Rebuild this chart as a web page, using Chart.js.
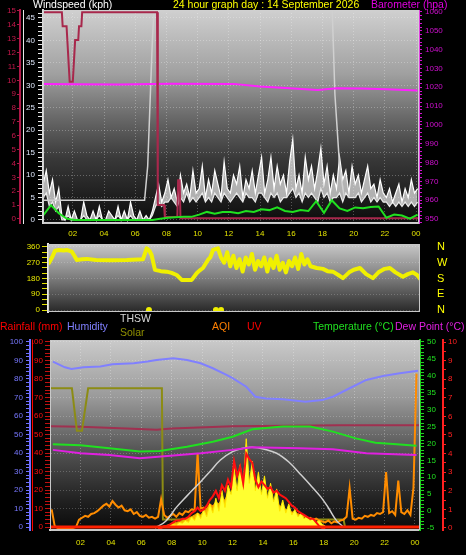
<!DOCTYPE html>
<html>
<head>
<meta charset="utf-8">
<title>24 hour graph</title>
<script src="https://cdn.jsdelivr.net/npm/chart.js@4.4.1/dist/chart.umd.min.js"></script>
<style>
  body { margin: 0; background: #000; width: 466px; height: 555px; overflow: hidden; position: relative;
         font-family: "Liberation Sans", Arial, sans-serif; }
  canvas { position: absolute; left: 0; }
  .label { position: absolute; white-space: nowrap; font-size: 10.5px; line-height: 12px; }
</style>
</head>
<body>
<canvas id="windChart" width="466" height="240" style="top:0px"></canvas>
<canvas id="dirChart" width="466" height="92" style="top:232px"></canvas>
<canvas id="climateChart" width="466" height="225" style="top:330px"></canvas>

<div class="label" style="left:33px;top:-2px;color:#ffffff">Windspeed (kph)</div>
<div class="label" style="left:173px;top:-2px;color:#ffff00">24 hour graph day : 14 September 2026</div>
<div class="label" style="left:371px;top:-2px;color:#e000e0">Barometer (hpa)</div>

<div class="label" style="left:0px;top:320px;color:#ff0000">Rainfall (mm)</div>
<div class="label" style="left:67px;top:320px;color:#8080ff">Humidity</div>
<div class="label" style="left:120px;top:312px;color:#d8d8d8">THSW</div>
<div class="label" style="left:120px;top:326px;color:#909000">Solar</div>
<div class="label" style="left:212px;top:320px;color:#ff8000">AQI</div>
<div class="label" style="left:247px;top:320px;color:#ff0000">UV</div>
<div class="label" style="left:313px;top:320px;color:#20e020">Temperature (°C)</div>
<div class="label" style="left:395px;top:320px;color:#e020e0">Dew Point (°C)</div>

<script>
// ---------- top panel: wind speed, gusts, barometer ----------
// noisy samples start at 00:06 and come every 12 minutes
const noisyStart = 0.1;
const noisyStep = 0.2;

const windGust = [8, 11, 6, 9, 4, 7,
  1, 0, 3, 0, 2, 0, 0, 4, 1, 0, 2, 0, 3, 0, 0, 2, 1, 0, 3, 0, 2, 0, 4, 1, 0, 2, 0, 1, 0,
  2, 5, 8, 4, 6,
  9, 5, 7, 4, 10, 6, 8, 5, 11, 6,
  7, 12, 5, 9, 6, 11, 8, 5, 13, 7,
  6, 10, 8, 12, 5, 9, 7, 11, 6, 10,
  14, 6, 9, 14, 7, 12, 8, 10, 6, 13,
  18, 7, 10, 6, 14, 9, 12, 7, 11, 16,
  8, 12, 6, 10, 7, 14, 9, 11, 6, 12,
  8, 10, 6, 9, 12, 7, 8, 5, 9, 6,
  5, 7, 4, 6, 8, 4, 7, 5, 9, 6, 7];

const windSpeed = [5, 6, 3, 4, 2, 3,
  0, 0, 1, 0, 0, 0, 0, 1, 0, 0, 0, 0, 1, 0, 0, 0, 0, 0, 1, 0, 0, 0, 1, 0, 0, 0, 0, 0, 0,
  1, 3, 4, 3, 4,
  4, 5, 4, 3, 5, 4, 6, 4, 5, 4,
  5, 6, 4, 5, 4, 6, 5, 4, 6, 5,
  4, 5, 6, 5, 4, 6, 5, 5, 4, 6,
  6, 5, 4, 6, 5, 6, 4, 5, 5, 6,
  7, 5, 6, 4, 6, 5, 6, 5, 4, 7,
  5, 6, 4, 5, 5, 6, 4, 6, 5, 5,
  5, 6, 4, 5, 6, 4, 5, 4, 5, 4,
  4, 3, 4, 3, 4, 3, 4, 3, 4, 3, 4];

// averaged wind, every 30 minutes
const avgStart = 0.1;
const avgStep = 0.5;
const windAvg = [1.0, 3.3, 1.5, 0.3, 0, 0, 0, 0, 0, 0, 0, 0, 0, 0, 0,
  0.3, 0.5, 0.6, 0.7, 0.7, 1.2, 1.8, 1.4, 1.8, 1.8, 1.5, 2.0, 1.8, 2.4, 2.2, 2.8, 2.0,
  1.8, 2.2, 2.0, 4.2, 1.6, 4.4, 2.6, 2.0, 2.8, 2.6, 2.9, 3.0, 0.5, 1.2, 1.0, 0.3, 1.2];

const gustMaxHours = [0.1, 6.6, 6.8, 7.1, 7.25, 18.6, 18.8, 19.1, 19.4];
const gustMax = [4.4, 4.4, 12, 40, 50, 50, 28, 12, 5];

const rateHours = [0.1, 1.3, 1.35, 1.6, 1.65, 1.75, 1.8, 2.0, 2.05, 2.15, 2.35, 2.4, 2.55, 2.6,
  7.4, 7.45, 7.85, 7.9, 8.7, 8.75, 8.85, 8.9, 24.19];
const rateValues = [14.9, 14.9, 13.9, 13.9, 12.9, 10.9, 9.9, 9.9, 10.9, 12.9, 12.9, 13.9, 13.9, 14.9,
  14.9, 1.0, 1.0, 0.15, 0.15, 2.8, 2.8, 0.05, 0.05];

const baroHours = [0.1, 2, 5, 8.2, 12.3, 14, 15.9, 17.7, 18.9, 20.5, 22.1, 24.1];
const baroValues = [1021.7, 1021.6, 1021.5, 1021.9, 1021.8, 1020.4, 1019.5, 1018.6, 1019.5, 1019.4, 1019.0, 1018.3];

// ---------- middle panel: wind direction ----------
const dirHours = [0.15, 0.35, 0.54, 0.8, 1.1, 1.3, 1.63, 1.8, 1.95, 2.3, 2.6, 3.2, 4.2, 5.2, 5.9,
  6.24, 6.48, 6.65, 6.8, 7.02, 7.4, 7.78, 8.1, 8.43, 8.75, 9.0, 9.4, 9.72, 9.9, 10.13,
  10.45, 10.6, 10.78, 11.1,
  11.3, 11.5, 11.7, 11.9, 12.1, 12.3, 12.5, 12.7, 12.9, 13.1, 13.3, 13.5, 13.7, 13.9, 14.1,
  14.3, 14.5, 14.7, 14.9, 15.1, 15.3, 15.5, 15.7, 15.9, 16.1, 16.3, 16.5, 16.7, 16.9, 17.1,
  17.5, 17.9, 18.2, 18.55, 18.9, 19.2, 19.6, 19.9, 20.3, 20.7, 21.14, 21.5, 21.9, 22.24, 22.6,
  23.08, 23.4, 23.73, 24.0, 24.18];
const dirValues = [268, 300, 338, 343, 340, 343, 333, 310, 286, 290, 292, 285, 284, 285, 288,
  290, 352, 340, 314, 229, 222, 219, 212, 200, 172, 171, 172, 210, 225, 240,
  286, 300, 343, 352,
  300, 270, 330, 250, 310, 240, 290, 220, 300, 260, 320, 230, 280, 250, 300,
  220, 290, 240, 310, 230, 270, 215, 280, 250, 300, 235, 320, 260, 290, 250,
  240, 235, 222, 219, 200, 182, 215, 230, 240, 205, 182, 215, 235, 240, 215,
  190, 205, 215, 200, 180];
const calmHours = [6.63, 10.97, 11.3];
const calmValues = [0, 0, 0];
const compassLabels = { 0: "N", 90: "E", 180: "S", 270: "W", 360: "N" };

// ---------- bottom panel ----------
const humHours = [0.18, 0.97, 1.4, 2.2, 3.3, 4.1, 5.5, 6.4, 7.0, 8.1, 9.0, 9.9, 10.7, 11.6, 12.0,
  12.9, 13.5, 14.2, 15.3, 16.8, 17.9, 18.6, 19.7, 20.8, 21.9, 23.0, 24.2];
const humValues = [89.4, 86.3, 85.4, 86.3, 86.7, 88.0, 88.5, 89.4, 90.3, 91.2, 90.3, 88.5, 85.8, 82.2, 80.5,
  75.8, 70.4, 69.5, 69.0, 67.7, 68.6, 70.4, 75.0, 79.5, 81.6, 83.1, 84.5];

const tempHours = [0.18, 2.0, 3.9, 5.9, 7.2, 9.0, 10.7, 12.0, 13.3, 15.3, 17.1, 18.6, 20.1, 21.4, 22.8, 24.1];
const tempValues = [19.8, 19.5, 18.6, 17.6, 17.8, 19.0, 20.5, 22.0, 24.2, 25.0, 25.0, 23.5, 21.5, 20.2, 19.8, 19.3];

const dewHours = [0.18, 2.0, 3.9, 5.9, 7.7, 9.9, 12.0, 13.3, 16.4, 18.6, 20.8, 24.1];
const dewValues = [18.1, 17.1, 16.6, 15.6, 16.3, 17.1, 18.1, 18.9, 18.6, 18.3, 17.1, 16.6];

const thswHours = [6.9, 7.6, 8.3, 9.0, 9.9, 10.5, 11.2, 12.0, 12.7, 13.3, 14.1, 14.9, 15.7, 16.4, 17.1, 17.8, 18.3, 18.8, 19.3];
const thswValues = [-5, -3, 1.1, 4.5, 8.7, 11.6, 15.1, 17.6, 18.6, 18.9, 18.3, 17.1, 14.5, 11.2, 7.8, 4.2, 1.0, -2.6, -4.7];

const solarHours = [-0.1, 1.43, 1.76, 2.09, 2.5, 7.35, 7.42, 19.3, 19.4, 24.4];
const solarValues = [75, 75, 52, 52, 75, 75, 4, 4, 0, 0];

const maroonHours = [-0.1, 2.0, 5.0, 7.0, 8.0, 12.0, 19.0, 24.4];
const maroonValues = [54.5, 54.2, 53.2, 52.6, 53.3, 54.5, 55.0, 55.0];

const rainHours = [-0.1, 24.4];
const rainValues = [0, 0];

// AQI on the same 12 minute grid as the wind
const aqiValues = [20, 2, 0, 0, 0, 0, 0, 0, 1, 9,
  11, 13, 12, 15, 16, 18, 21, 24, 26, 23,
  29, 25, 22, 24, 19, 18, 20, 15, 17, 13,
  12, 14, 11, 12, 10, 12, 31, 14, 11, 13,
  15, 12, 16, 14, 18, 17, 20, 19, 80, 21,
  22, 20, 25, 23, 27, 24, 28, 29, 26, 30,
  28, 32, 27, 30, 26, 29, 25, 27, 23, 26,
  22, 24, 20, 22, 19, 21, 17, 19, 15, 17,
  14, 15, 12, 13, 10, 11, 9, 10, 8, 7,
  6, 8, 5, 7, 6, 8, 9, 12, 43, 10,
  9, 11, 10, 13, 12, 14, 13, 16, 15, 17,
  60, 16, 18, 14, 51, 17, 15, 19, 14, 43, 166];

// daytime samples from 07:06, every 12 minutes
const dayStart = 7.1;
const dayStep = 0.2;
const uvValues = [0, 0, 0.1, 0.1, 0.2, 0.3, 0.4, 0.4, 0.5, 0.5,
  0.6, 0.8, 0.9, 1.1, 0.9, 1.0, 1.2, 1.5, 1.7, 2.0,
  1.6, 2.3, 2.0, 2.6, 2.2, 3.6, 2.8, 3.3, 2.4, 4.0,
  3.7, 3.5, 2.6, 2.2, 2.5, 2.3, 2.1, 2.2, 1.9, 2.0,
  1.8, 1.7, 1.6, 1.4, 1.2, 1.1, 0.9, 0.8, 0.7, 0.6,
  0.5, 0.5, 0.3, 0.1, 0, 0];
const solarGold = [0, 0.05, 0.1, 0.15, 0.2, 0.25, 0.3, 0.35, 0.4, 0.5,
  0.55, 0.6, 0.7, 0.8, 0.7, 0.9, 1.0, 1.2, 1.1, 1.4,
  1.3, 1.6, 1.5, 1.9, 1.7, 2.2, 2.0, 2.4, 2.1, 2.6,
  2.5, 2.3, 1.9, 1.7, 1.8, 1.6, 1.5, 1.6, 1.3, 1.4,
  1.2, 1.1, 1.0, 0.9, 0.8, 0.7, 0.6, 0.5, 0.45, 0.4,
  0.35, 0.3, 0.25, 0.2, 0.15, 0.1];
const solarSpikes = [0, 0, 0.05, 0.1, 0.15, 0.2, 0.15, 0.3, 0.25, 0.4,
  0.3, 0.6, 0.4, 0.8, 0.5, 1.0, 0.6, 1.3, 0.8, 1.6,
  0.9, 2.0, 1.1, 2.3, 1.8, 3.2, 2.0, 3.4, 2.2, 4.8,
  2.4, 3.6, 2.0, 3.0, 1.8, 2.8, 1.6, 2.4, 1.4, 2.1,
  0.9, 1.5, 0.8, 1.3, 0.7, 1.0, 0.6, 0.8, 0.5, 0.6,
  0.4, 0.5, 0.3, 0.4, 0.2, 0.1];

// ---------- helpers ----------
function gridHours(start, step, count) {
  return Array.from({ length: count }, (_, i) => Math.round((start + i * step) * 100) / 100);
}
function points(hours, values) {
  return values.map((v, i) => ({ x: hours[i], y: v }));
}
function series(data, yAxisID, color, width, order, extra) {
  return Object.assign({ data: data, yAxisID: yAxisID, borderColor: color, borderWidth: width,
    order: order, pointRadius: 0, tension: 0, fill: false }, extra || {});
}
function hourLabel(v) {
  return v > 0 ? String(v % 24).padStart(2, "0") : "";
}

const noisyHours = gridHours(noisyStart, noisyStep, windGust.length);
const avgHours = gridHours(avgStart, avgStep, windAvg.length);
const dayHours = gridHours(dayStart, dayStep, uvValues.length);

// gradient behind the plot area
const plotBackground = {
  id: "plotBackground",
  beforeDraw(chart, args, opts) {
    const { ctx, chartArea: a } = chart;
    const g = ctx.createLinearGradient(0, a.top, 0, a.bottom);
    opts.stops.forEach((s) => g.addColorStop(s[0], s[1]));
    ctx.save();
    ctx.fillStyle = g;
    ctx.fillRect(a.left, a.top, a.width, a.height);
    ctx.restore();
  }
};
// thin frame round the plot area
const plotFrame = {
  id: "plotFrame",
  afterDatasetsDraw(chart, args, opts) {
    const { ctx, chartArea: a } = chart;
    ctx.save();
    ctx.strokeStyle = opts.color;
    ctx.lineWidth = 1;
    ctx.strokeRect(a.left + 0.5, a.top + 0.5, a.width - 1, a.height - 1);
    ctx.restore();
  }
};

Chart.defaults.font.family = '"Liberation Sans", Arial, sans-serif';
Chart.defaults.font.size = 8;

const gridColor = "rgba(255,255,255,0.28)";
const baseOptions = {
  responsive: false,
  animation: false,
  events: []
};

// ---------- top chart ----------
new Chart(document.getElementById("windChart"), {
  type: "line",
  data: {
    datasets: [
      series(points(avgHours, windAvg), "speed", "#20e020", 2, 1),
      series(points(rateHours, rateValues), "rate", "#a8284c", 2, 2),
      series(points(baroHours, baroValues), "baro", "#ff20ff", 2, 3),
      series(points(gustMaxHours, gustMax), "speed", "#d0d0d0", 1.5, 4),
      // gusts, shaded down to the wind speed line (dataset index 5)
      series(points(noisyHours, windGust), "speed", "#ffffff", 1.2, 5,
        { fill: 5, backgroundColor: "rgba(240,240,240,0.7)" }),
      series(points(noisyHours, windSpeed), "speed", "#e8e8e8", 1.2, 6)
    ]
  },
  options: Object.assign({}, baseOptions, {
    layout: { padding: { top: 10 } },
    plugins: {
      legend: { display: false },
      tooltip: { enabled: false },
      plotBackground: { stops: [[0, "#d0d0d0"], [0.3, "#a0a0a0"], [0.5, "#6a6a6a"], [0.7, "#383838"], [1, "#0c0c0c"]] },
      plotFrame: { color: "#d0d0d0" }
    },
    scales: {
      x: {
        type: "linear", min: 0.09, max: 24.19,
        afterFit: (s) => { s.height = 17; },
        ticks: { stepSize: 2, includeBounds: false, color: "#e0e000", padding: 6, maxRotation: 0, callback: hourLabel },
        grid: { color: gridColor, drawTicks: false },
        border: { color: "#c8c8c8", width: 2, dash: [1, 2] }
      },
      rate: {
        position: "left", weight: 3, min: -0.29, max: 15.07,
        afterFit: (s) => { s.width = 20; },
        ticks: { stepSize: 1, includeBounds: false, autoSkip: false, color: "#c8184c", padding: 1 },
        grid: { drawOnChartArea: false, tickLength: 3, tickColor: "#b01848" },
        border: { color: "#b01848", width: 2 }
      },
      tempLeft: {
        position: "left", weight: 2, min: -5.79, max: 50.26,
        afterFit: (s) => { s.width = 0; },
        ticks: { stepSize: 5, includeBounds: false, autoSkip: false, color: "#f0c4dc", padding: 4 },
        grid: { drawOnChartArea: false, drawTicks: false },
        border: { display: false }
      },
      edge: {
        position: "left", weight: 1, min: 0, max: 1,
        afterFit: (s) => { s.width = 3; },
        ticks: { display: false },
        grid: { display: false },
        border: { color: "#e8e8e8", width: 1 }
      },
      speed: {
        position: "left", weight: 0, min: -0.67, max: 46.78,
        afterFit: (s) => { s.width = 20; },
        ticks: { stepSize: 1, includeBounds: false, autoSkip: false, color: "#dce4f8", padding: 3,
          callback: (v) => (v % 5 === 0 ? v : "") },
        grid: { tickLength: 5, tickColor: "#e8e8e8",
          color: (c) => (c.tick && c.tick.value % 5 === 0 ? gridColor : "transparent") },
        border: { color: "#d8d8d8", width: 2, dash: [1, 2] }
      },
      baro: {
        position: "right", min: 947.87, max: 1061.06,
        afterFit: (s) => { s.width = 47; },
        ticks: { stepSize: 2, includeBounds: false, autoSkip: false, color: "#d010d0", padding: 3,
          callback: (v) => (v % 10 === 0 ? v : "") },
        grid: { drawOnChartArea: false, tickLength: 3, tickColor: "#d010d0" },
        border: { color: "#e040e0", width: 1 }
      }
    }
  }),
  plugins: [plotBackground, plotFrame]
});

// ---------- wind direction chart ----------
new Chart(document.getElementById("dirChart"), {
  type: "line",
  data: {
    datasets: [
      series(points(calmHours, calmValues), "dir", "#f0f000", 0, 1,
        { showLine: false, pointRadius: 3, pointBackgroundColor: "#f0f000", pointBorderWidth: 0 }),
      series(points(dirHours, dirValues), "dir", "#f0f000", 4, 2,
        { borderCapStyle: "round", borderJoinStyle: "round" })
    ]
  },
  options: Object.assign({}, baseOptions, {
    layout: { padding: { top: 12, bottom: 12 } },
    plugins: {
      legend: { display: false },
      tooltip: { enabled: false },
      plotBackground: { stops: [[0, "#c8c8c8"], [0.5, "#7c7c7c"], [1, "#282828"]] },
      plotFrame: { color: "#c8c8c8" }
    },
    scales: {
      x: { type: "linear", min: 0.09, max: 24.19, display: false },
      dir: {
        position: "left", min: -11.4, max: 377,
        afterFit: (s) => { s.width = 48; },
        ticks: { stepSize: 30, includeBounds: false, autoSkip: false, color: "#e8e800", padding: 2,
          callback: (v) => (v % 90 === 0 ? v : "") },
        grid: { tickLength: 6, tickColor: "#e0e000",
          color: (c) => (c.tick && c.tick.value % 90 === 0 ? "rgba(255,255,255,0.2)" : "transparent") },
        border: { color: "#e8e8e8", width: 2, dash: [1, 2] }
      },
      compass: {
        position: "right", min: -11.4, max: 377,
        afterFit: (s) => { s.width = 46; },
        ticks: { stepSize: 90, includeBounds: false, autoSkip: false, color: "#ffff00", padding: 0,
          font: { size: 11 }, callback: (v) => compassLabels[v] },
        grid: { drawOnChartArea: false, tickLength: 17, tickColor: "transparent" },
        border: { display: false }
      }
    }
  }),
  plugins: [plotBackground, plotFrame]
});

// ---------- rain / humidity / temperature chart ----------
new Chart(document.getElementById("climateChart"), {
  type: "line",
  data: {
    datasets: [
      series(points(rainHours, rainValues), "rain", "#ff2000", 3, 0),
      series(points(humHours, humValues), "hum", "#8080ff", 2, 1),
      series(points(tempHours, tempValues), "temp", "#20e020", 2, 2),
      series(points(dewHours, dewValues), "temp", "#e020e0", 2, 3),
      series(points(thswHours, thswValues), "temp", "#cfcfcf", 1.5, 4, { tension: 0.4 }),
      series(points(dayHours, uvValues), "uv", "#ff1010", 2, 5),
      series(points(dayHours, solarSpikes), "uv", "#ffe800", 1, 6,
        { fill: "origin", backgroundColor: "#ffff30" }),
      series(points(dayHours, solarGold), "uv", "#f0a800", 1, 7,
        { fill: "origin", backgroundColor: "#f4b400" }),
      series(points(noisyHours, aqiValues), "aqi", "#ff8c00", 2, 8),
      series(points(solarHours, solarValues), "hum", "#8c8c14", 2, 9),
      series(points(maroonHours, maroonValues), "hum", "#a03050", 2, 10)
    ]
  },
  options: Object.assign({}, baseOptions, {
    layout: { padding: { top: 10 } },
    plugins: {
      legend: { display: false },
      tooltip: { enabled: false },
      plotBackground: { stops: [[0, "#cacaca"], [0.3, "#9a9a9a"], [0.6, "#505050"], [0.85, "#202020"], [1, "#0a0a0a"]] },
      plotFrame: { color: "#c8c8c8" }
    },
    scales: {
      x: {
        type: "linear", min: -0.01, max: 24.33,
        afterFit: (s) => { s.height = 25; },
        ticks: { stepSize: 2, includeBounds: false, color: "#e0e000", padding: 8, maxRotation: 0, callback: hourLabel },
        grid: { color: gridColor, drawTicks: false },
        border: { color: "#c8c8c8", width: 2, dash: [1, 2] }
      },
      hum: {
        position: "left", weight: 2, min: -1.62, max: 101.08,
        afterFit: (s) => { s.width = 30; },
        ticks: { stepSize: 2, includeBounds: false, autoSkip: false, color: "#7878ff", padding: 3,
          callback: (v) => (v % 10 === 0 ? v : "") },
        grid: { tickLength: 4, tickColor: "#7070ff",
          color: (c) => (c.tick && c.tick.value % 10 === 0 ? "rgba(255,255,255,0.22)" : "transparent") },
        border: { color: "#7070ff", width: 2, dash: [1, 2] }
      },
      edge: {
        position: "left", weight: 1, min: 0, max: 1,
        afterFit: (s) => { s.width = 2; },
        ticks: { display: false },
        grid: { display: false },
        border: { color: "#ff0000", width: 1 }
      },
      rain: {
        position: "left", weight: 0, min: -1.62, max: 101.08,
        afterFit: (s) => { s.width = 18; },
        ticks: { stepSize: 2, includeBounds: false, autoSkip: false, color: "#ff1010", padding: 2,
          callback: (v) => (v % 10 === 0 ? v : "") },
        grid: { drawOnChartArea: false, tickLength: 5, tickColor: "#c01010" },
        border: { color: "#e0e0e0", width: 1 }
      },
      temp: {
        position: "right", weight: 0, min: -5.59, max: 50.59,
        afterFit: (s) => { s.width = 23; },
        ticks: { stepSize: 1, includeBounds: false, autoSkip: false, color: "#20e020", padding: 3,
          callback: (v) => (v % 5 === 0 ? v : "") },
        grid: { drawOnChartArea: false, tickLength: 4, tickColor: "#20d020" },
        border: { color: "#20d020", width: 2 }
      },
      aqi: {
        position: "right", weight: 1, min: -2.2, max: 202.2,
        afterFit: (s) => { s.width = 0; },
        ticks: { stepSize: 20, includeBounds: false, autoSkip: false, color: "#ff8000", padding: 0 },
        grid: { drawOnChartArea: false, tickLength: 6, tickColor: "transparent" },
        border: { display: false }
      },
      uv: {
        position: "right", weight: 2, min: -0.11, max: 10.11,
        afterFit: (s) => { s.width = 23; },
        ticks: { stepSize: 0.5, includeBounds: false, autoSkip: false, color: "#ff2020", padding: 2,
          callback: (v) => (v % 1 === 0 ? v : "") },
        grid: { drawOnChartArea: false, tickLength: 3, tickColor: "#ff2020" },
        border: { color: "#ff2020", width: 2 }
      }
    }
  }),
  plugins: [plotBackground, plotFrame]
});
</script>
</body>
</html>
